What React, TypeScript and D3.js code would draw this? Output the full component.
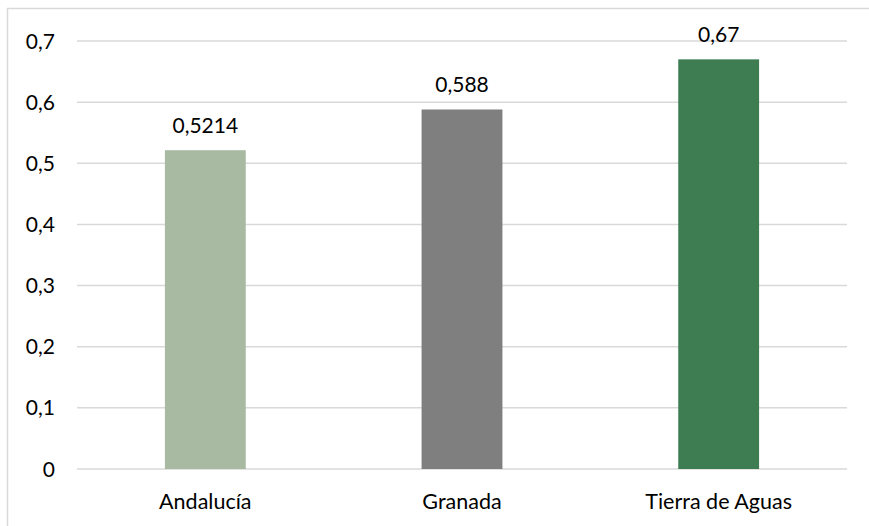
import React from "react";
import * as d3 from "d3";

const categories = ["Andalucía", "Granada", "Tierra de Aguas"];
const values = [0.5214, 0.588, 0.67];
const valueLabels = ["0,5214", "0,588", "0,67"];
const colors = ["#A9BAA2", "#7F7F7F", "#3E7D52"];
const yTicks = [0, 0.1, 0.2, 0.3, 0.4, 0.5, 0.6, 0.7];

const W = 869;
const H = 526;
const left = 77;
const right = 847;
const top = 41;
const bottom = 469;
const font = "Lato, 'Open Sans', sans-serif";

export default function App() {
  const x = d3
    .scaleBand<string>()
    .domain(categories)
    .range([left, right])
    .paddingInner(0.685)
    .paddingOuter(0.3425);
  const y = d3.scaleLinear().domain([0, 0.7]).range([bottom, top]);
  const fmt = (v: number) => String(v).replace(".", ",");

  return (
    <svg
      width={W}
      height={H}
      style={{ position: "absolute", left: 0, top: 0, background: "#fff" }}
      fontFamily={font}
    >
      <rect x={0} y={0} width={W} height={H} fill="#fff" />
      <path d={`M7.5,${H} V8.5 H${W}`} fill="none" stroke="#D9D9D9" strokeWidth={1.5} />
      {yTicks.map((t) => (
        <g key={t}>
          <line x1={left} x2={right} y1={y(t)} y2={y(t)} stroke="#D9D9D9" strokeWidth={1.5} />
          <text x={55} y={y(t)} dy="0.36em" textAnchor="end" fontSize={21} fill="#000">
            {fmt(t)}
          </text>
        </g>
      ))}
      {categories.map((c, i) => (
        <g key={c}>
          <rect
            x={x(c)}
            y={y(values[i])}
            width={x.bandwidth()}
            height={y(0) - y(values[i])}
            fill={colors[i]}
          />
          <text
            x={(x(c) as number) + x.bandwidth() / 2}
            y={y(values[i]) - 17}
            textAnchor="middle"
            fontSize={21}
            fill="#000"
          >
            {valueLabels[i]}
          </text>
          <text
            x={(x(c) as number) + x.bandwidth() / 2}
            y={509}
            textAnchor="middle"
            fontSize={21.5}
            fill="#000"
          >
            {c}
          </text>
        </g>
      ))}
    </svg>
  );
}
